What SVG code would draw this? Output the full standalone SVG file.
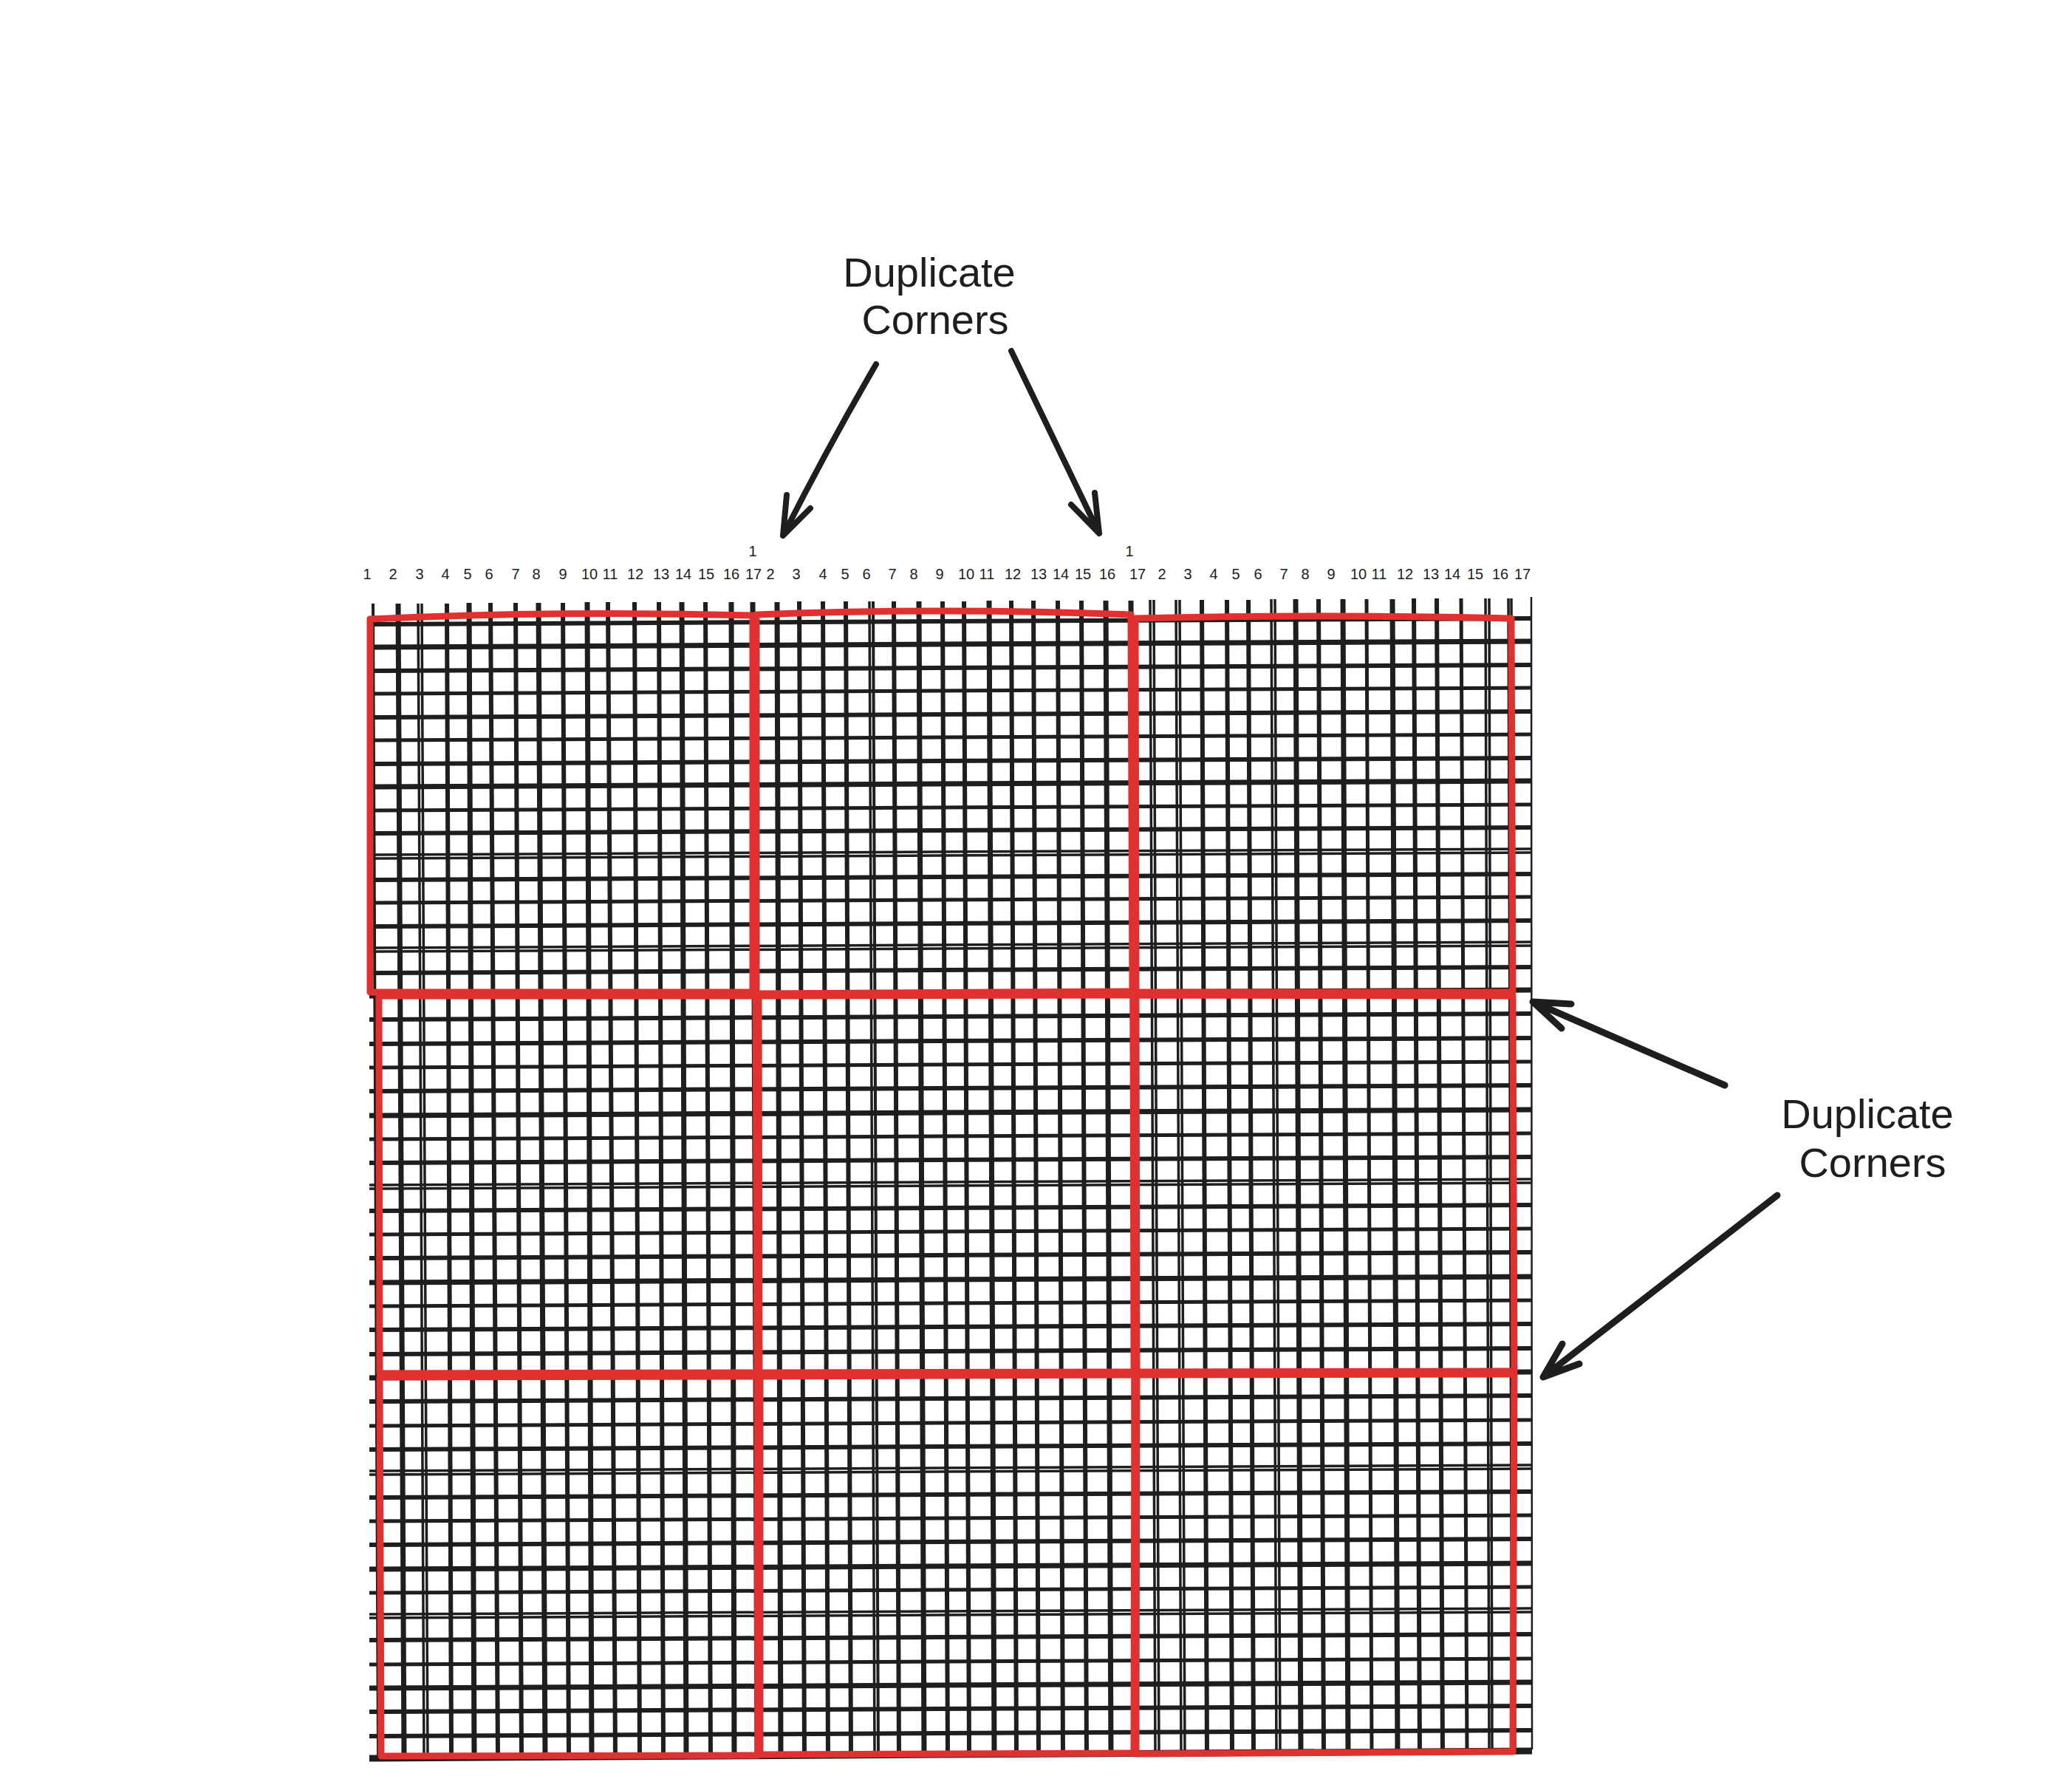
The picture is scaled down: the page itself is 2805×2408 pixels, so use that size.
<svg xmlns="http://www.w3.org/2000/svg" width="2805" height="2408" viewBox="0 0 2805 2408">
<style>
.bg{fill:#ffffff}
.v line,.h line{stroke:#1e1e1e;stroke-linecap:butt}
.red{fill:none;stroke:#e03131;stroke-width:9;stroke-linejoin:round;stroke-linecap:round}
.lbl{font-family:"Liberation Sans",Arial,sans-serif;font-size:20px;fill:#1e1e1e;text-anchor:middle}
.ann{font-family:"Liberation Sans",Arial,sans-serif;font-size:56px;fill:#1e1e1e;text-anchor:middle}
.arr{fill:none;stroke:#1e1e1e;stroke-linecap:round;stroke-linejoin:round}
</style>
<rect class="bg" x="0" y="0" width="2805" height="2408"/>
<g id="grid">
<g class="v" id="verticals">
<line x1="505" y1="817" x2="512" y2="2378" stroke-width="4"/>
<line x1="539" y1="817" x2="547" y2="2378" stroke-width="7"/>
<line x1="566" y1="817" x2="574" y2="2378" stroke-width="3.5"/>
<line x1="571" y1="817" x2="579" y2="2378" stroke-width="3.5"/>
<line x1="605" y1="817" x2="611" y2="2378" stroke-width="6"/>
<line x1="635" y1="816" x2="642" y2="2378" stroke-width="7"/>
<line x1="664" y1="816" x2="674" y2="2378" stroke-width="6"/>
<line x1="698" y1="816" x2="706" y2="2378" stroke-width="6"/>
<line x1="729" y1="816" x2="738" y2="2378" stroke-width="7"/>
<line x1="762" y1="816" x2="770" y2="2378" stroke-width="6"/>
<line x1="795" y1="815" x2="801" y2="2378" stroke-width="7"/>
<line x1="823" y1="815" x2="833" y2="2378" stroke-width="6"/>
<line x1="859" y1="815" x2="866" y2="2378" stroke-width="6"/>
<line x1="892" y1="815" x2="898" y2="2378" stroke-width="6"/>
<line x1="923" y1="815" x2="929" y2="2378" stroke-width="7"/>
<line x1="955" y1="815" x2="962" y2="2378" stroke-width="6"/>
<line x1="990" y1="815" x2="994" y2="2378" stroke-width="7"/>
<line x1="1019" y1="815" x2="1025" y2="2377" stroke-width="7"/>
<line x1="1052" y1="815" x2="1057" y2="2377" stroke-width="7"/>
<line x1="1082" y1="814" x2="1089" y2="2377" stroke-width="6"/>
<line x1="1114" y1="814" x2="1121" y2="2377" stroke-width="6"/>
<line x1="1145" y1="814" x2="1152" y2="2377" stroke-width="6"/>
<line x1="1177" y1="814" x2="1184" y2="2377" stroke-width="3.5"/>
<line x1="1182" y1="814" x2="1189" y2="2377" stroke-width="4"/>
<line x1="1210" y1="814" x2="1217" y2="2377" stroke-width="6"/>
<line x1="1244" y1="814" x2="1251" y2="2376" stroke-width="7"/>
<line x1="1276" y1="814" x2="1283" y2="2376" stroke-width="6"/>
<line x1="1305" y1="814" x2="1312" y2="2376" stroke-width="6"/>
<line x1="1339" y1="813" x2="1346" y2="2376" stroke-width="7"/>
<line x1="1369" y1="813" x2="1376" y2="2376" stroke-width="6"/>
<line x1="1399" y1="813" x2="1406" y2="2376" stroke-width="6"/>
<line x1="1432" y1="813" x2="1439" y2="2375" stroke-width="6"/>
<line x1="1464" y1="813" x2="1471" y2="2375" stroke-width="6"/>
<line x1="1497" y1="813" x2="1504" y2="2375" stroke-width="7"/>
<line x1="1531" y1="813" x2="1537" y2="2375" stroke-width="7"/>
<line x1="1557" y1="812" x2="1564" y2="2375" stroke-width="3.5"/>
<line x1="1562" y1="812" x2="1569" y2="2375" stroke-width="3.5"/>
<line x1="1592" y1="812" x2="1599" y2="2375" stroke-width="3.5"/>
<line x1="1597" y1="812" x2="1604" y2="2375" stroke-width="3.5"/>
<line x1="1627" y1="812" x2="1634" y2="2374" stroke-width="6"/>
<line x1="1661" y1="812" x2="1668" y2="2374" stroke-width="6"/>
<line x1="1690" y1="812" x2="1697" y2="2374" stroke-width="6"/>
<line x1="1721" y1="811" x2="1728" y2="2374" stroke-width="3.5"/>
<line x1="1726" y1="811" x2="1733" y2="2374" stroke-width="3.5"/>
<line x1="1754" y1="811" x2="1761" y2="2374" stroke-width="7"/>
<line x1="1785" y1="811" x2="1792" y2="2374" stroke-width="6"/>
<line x1="1818" y1="811" x2="1825" y2="2373" stroke-width="7"/>
<line x1="1850" y1="811" x2="1857" y2="2373" stroke-width="5"/>
<line x1="1885" y1="811" x2="1892" y2="2373" stroke-width="7"/>
<line x1="1914" y1="810" x2="1922" y2="2373" stroke-width="6"/>
<line x1="1945" y1="810" x2="1953" y2="2373" stroke-width="6"/>
<line x1="1978" y1="810" x2="1986" y2="2372" stroke-width="5"/>
<line x1="2011" y1="810" x2="2016" y2="2372" stroke-width="3.5"/>
<line x1="2016" y1="810" x2="2020" y2="2372" stroke-width="3.5"/>
<line x1="2042" y1="810" x2="2047" y2="2372" stroke-width="3.5"/>
<line x1="2046" y1="810" x2="2051" y2="2372" stroke-width="3.5"/>
<line x1="2073" y1="808" x2="2074" y2="2368" stroke-width="2.5"/>
</g>
<g class="h" id="horizontals">
<line x1="500" y1="845" x2="2074" y2="837" stroke-width="6"/>
<line x1="500" y1="876" x2="2074" y2="868" stroke-width="7"/>
<line x1="500" y1="908" x2="2074" y2="900" stroke-width="6"/>
<line x1="500" y1="939" x2="2074" y2="931" stroke-width="5"/>
<line x1="500" y1="971" x2="2074" y2="963" stroke-width="6"/>
<line x1="500" y1="1002" x2="2074" y2="994" stroke-width="5"/>
<line x1="500" y1="1034" x2="2074" y2="1026" stroke-width="6"/>
<line x1="500" y1="1065" x2="2074" y2="1057" stroke-width="7"/>
<line x1="500" y1="1097" x2="2074" y2="1089" stroke-width="5"/>
<line x1="500" y1="1128" x2="2074" y2="1120" stroke-width="6"/>
<line x1="500" y1="1157" x2="2074" y2="1149" stroke-width="3.5"/>
<line x1="500" y1="1162" x2="2074" y2="1154" stroke-width="3.5"/>
<line x1="500" y1="1191" x2="2074" y2="1183" stroke-width="6"/>
<line x1="500" y1="1222" x2="2074" y2="1214" stroke-width="5"/>
<line x1="500" y1="1254" x2="2074" y2="1246" stroke-width="6"/>
<line x1="500" y1="1283" x2="2074" y2="1275" stroke-width="3.5"/>
<line x1="500" y1="1288" x2="2074" y2="1280" stroke-width="3.5"/>
<line x1="500" y1="1317" x2="2074" y2="1309" stroke-width="6"/>
<line x1="500" y1="1348" x2="2074" y2="1340" stroke-width="7"/>
<line x1="500" y1="1380" x2="2074" y2="1372" stroke-width="6"/>
<line x1="500" y1="1413" x2="2074" y2="1405" stroke-width="6"/>
<line x1="500" y1="1445" x2="2074" y2="1437" stroke-width="5"/>
<line x1="500" y1="1477" x2="2074" y2="1469" stroke-width="6"/>
<line x1="500" y1="1510" x2="2074" y2="1502" stroke-width="7"/>
<line x1="500" y1="1542" x2="2074" y2="1534" stroke-width="5"/>
<line x1="500" y1="1574" x2="2074" y2="1566" stroke-width="6"/>
<line x1="500" y1="1604" x2="2074" y2="1596" stroke-width="3.5"/>
<line x1="500" y1="1609" x2="2074" y2="1601" stroke-width="3.5"/>
<line x1="500" y1="1639" x2="2074" y2="1631" stroke-width="6"/>
<line x1="500" y1="1671" x2="2074" y2="1663" stroke-width="5"/>
<line x1="500" y1="1703" x2="2074" y2="1695" stroke-width="6"/>
<line x1="500" y1="1736" x2="2074" y2="1728" stroke-width="7"/>
<line x1="500" y1="1768" x2="2074" y2="1760" stroke-width="5"/>
<line x1="500" y1="1800" x2="2074" y2="1792" stroke-width="6"/>
<line x1="500" y1="1833" x2="2074" y2="1825" stroke-width="6"/>
<line x1="500" y1="1865" x2="2074" y2="1857" stroke-width="7"/>
<line x1="500" y1="1897" x2="2074" y2="1889" stroke-width="6"/>
<line x1="500" y1="1930" x2="2074" y2="1922" stroke-width="5"/>
<line x1="500" y1="1962" x2="2074" y2="1954" stroke-width="6"/>
<line x1="500" y1="1991" x2="2074" y2="1983" stroke-width="3.5"/>
<line x1="500" y1="1996" x2="2074" y2="1988" stroke-width="3.5"/>
<line x1="500" y1="2027" x2="2074" y2="2019" stroke-width="6"/>
<line x1="500" y1="2059" x2="2074" y2="2051" stroke-width="5"/>
<line x1="500" y1="2091" x2="2074" y2="2083" stroke-width="6"/>
<line x1="500" y1="2124" x2="2074" y2="2116" stroke-width="7"/>
<line x1="500" y1="2156" x2="2074" y2="2148" stroke-width="5"/>
<line x1="500" y1="2185" x2="2074" y2="2177" stroke-width="3.5"/>
<line x1="500" y1="2190" x2="2074" y2="2182" stroke-width="3.5"/>
<line x1="500" y1="2220" x2="2074" y2="2212" stroke-width="6"/>
<line x1="500" y1="2253" x2="2074" y2="2245" stroke-width="5"/>
<line x1="500" y1="2285" x2="2074" y2="2277" stroke-width="7"/>
<line x1="500" y1="2317" x2="2074" y2="2309" stroke-width="6"/>
<line x1="500" y1="2350" x2="2074" y2="2342" stroke-width="6"/>
<line x1="500" y1="2380" x2="2074" y2="2370" stroke-width="9"/>
</g>
</g>
<g id="blocks">
<path id="block-1-1" class="red" d="M501,838 Q760,826 1019,833 L1019,1343 L501,1343 Z"/>
<path id="block-1-2" class="red" d="M1024,832 Q1280,822 1531,832 L1533,1342 L1024,1345 Z"/>
<path id="block-1-3" class="red" d="M1537,837 Q1800,831 2046,837 L2048,1343 L1538,1343 Z"/>
<path id="block-2-1" class="red" d="M513,1348 L1023,1348 L1025,1858 L514,1859 Z"/>
<path id="block-2-2" class="red" d="M1027,1348 L1534,1347 L1535,1857 L1028,1858 Z"/>
<path id="block-2-3" class="red" d="M1538,1347 L2048,1348 L2050,1856 L1539,1857 Z"/>
<path id="block-3-1" class="red" d="M514,1864 L1025,1863 L1026,2376 L516,2377 Z"/>
<path id="block-3-2" class="red" d="M1029,1863 L1536,1861 L1535,2373 L1029,2375 Z"/>
<path id="block-3-3" class="red" d="M1539,1861 L2050,1860 L2048,2371 L1538,2374 Z"/>
</g>
<g id="column-labels" class="lbl">
<text x="497" y="784">1</text><text x="532" y="784">2</text><text x="568" y="784">3</text><text x="603" y="784">4</text><text x="633" y="784">5</text><text x="662" y="784">6</text><text x="698" y="784">7</text><text x="726" y="784">8</text><text x="762" y="784">9</text><text x="798" y="784">10</text><text x="826" y="784">11</text><text x="860" y="784">12</text><text x="895" y="784">13</text><text x="925" y="784">14</text><text x="956" y="784">15</text><text x="990" y="784">16</text><text x="1020" y="784">17</text>
<text x="1019" y="753">1</text>
<text x="1043" y="784">2</text><text x="1078" y="784">3</text><text x="1114" y="784">4</text><text x="1144" y="784">5</text><text x="1173" y="784">6</text><text x="1208" y="784">7</text><text x="1237" y="784">8</text><text x="1272" y="784">9</text><text x="1308" y="784">10</text><text x="1336" y="784">11</text><text x="1371" y="784">12</text><text x="1406" y="784">13</text><text x="1436" y="784">14</text><text x="1466" y="784">15</text><text x="1499" y="784">16</text><text x="1540" y="784">17</text>
<text x="1529" y="753">1</text>
<text x="1573" y="784">2</text><text x="1608" y="784">3</text><text x="1643" y="784">4</text><text x="1673" y="784">5</text><text x="1703" y="784">6</text><text x="1738" y="784">7</text><text x="1767" y="784">8</text><text x="1802" y="784">9</text><text x="1839" y="784">10</text><text x="1867" y="784">11</text><text x="1902" y="784">12</text><text x="1937" y="784">13</text><text x="1966" y="784">14</text><text x="1997" y="784">15</text><text x="2031" y="784">16</text><text x="2061" y="784">17</text>
</g>
<g id="label-top" class="ann">
<text x="1258" y="388">Duplicate</text>
<text x="1266" y="452">Corners</text>
</g>
<g id="label-right" class="ann">
<text x="2528" y="1527">Duplicate</text>
<text x="2535" y="1593">Corners</text>
</g>
<g id="connectors">
<path class="arr" stroke-width="8" d="M1186,493 Q1122,603 1060,725 M1065,670 L1060,725 L1097,688"/>
<path class="arr" stroke-width="8" d="M1369,475 L1488,722 M1482,667 L1488,722 L1450,683"/>
<path class="arr" stroke-width="9" d="M2335,1469 L2075,1356 M2127,1359 L2075,1356 L2114,1392"/>
<path class="arr" stroke-width="9" d="M2406,1618 L2089,1864 M2115,1819 L2089,1864 L2138,1846"/>
</g>
</svg>
